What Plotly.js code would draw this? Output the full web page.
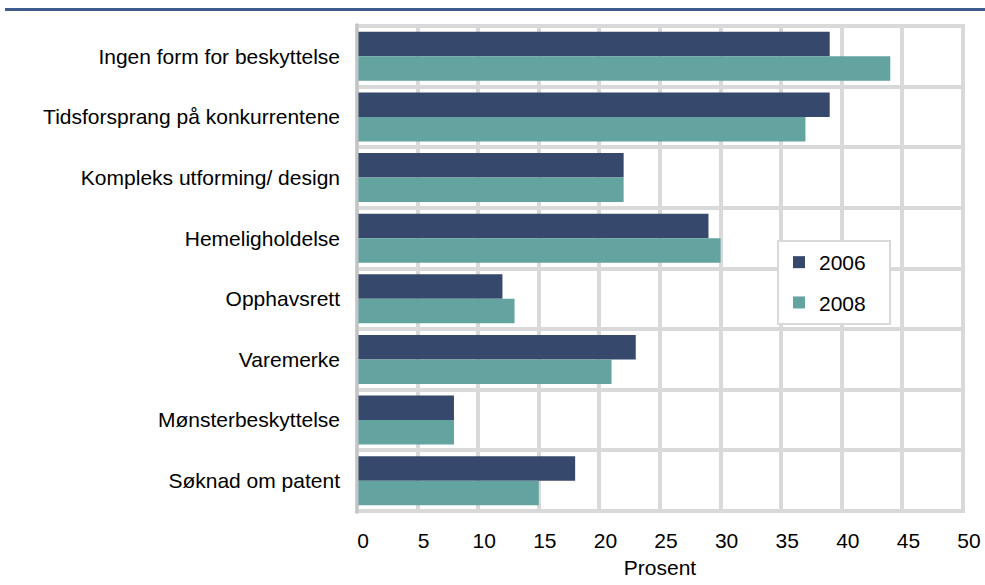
<!DOCTYPE html>
<html>
<head>
<meta charset="utf-8">
<script src="https://cdn.plot.ly/plotly-3.0.1.min.js"></script>
<style>
  html, body { margin: 0; padding: 0; background: #fff; }
  #chart { width: 985px; height: 585px; }
</style>
</head>
<body>
<div id="chart"></div>
<script>
const categories = [
  "Ingen form for beskyttelse",
  "Tidsforsprang på konkurrentene",
  "Kompleks utforming/ design",
  "Hemeligholdelse",
  "Opphavsrett",
  "Varemerke",
  "Mønsterbeskyttelse",
  "Søknad om patent"
];
const values2006 = [39, 39, 22, 29, 12, 23, 8, 18];
const values2008 = [44, 37, 22, 30, 13, 21, 8, 15];
const seriesNames = ["2006", "2008"];
const xTicks = [0, 5, 10, 15, 20, 25, 30, 35, 40, 45, 50];

const font = "Liberation Sans, Arial, sans-serif";
const fs = 21;
const plotW = 606, plotH = 485, ml = 357, mt = 26;
const pad = "\u00a0\u00a0\u00a0";

const traces = [
  {
    type: "bar", orientation: "h", name: seriesNames[0] + pad,
    y: categories, x: values2006,
    marker: { color: "#36486b" },
    legendgroup: "a", hoverinfo: "x"
  },
  {
    type: "bar", orientation: "h", name: seriesNames[1] + pad,
    y: categories, x: values2008,
    marker: { color: "#63a3a0" },
    legendgroup: "b", hoverinfo: "x"
  }
];

const layout = {
  width: 985, height: 585,
  margin: { l: ml, r: 985 - ml - plotW, t: mt, b: 585 - mt - plotH },
  paper_bgcolor: "#ffffff",
  plot_bgcolor: "#ffffff",
  font: { family: font, size: fs, color: "#000" },
  barmode: "group",
  bargap: 0.19,
  bargroupgap: 0,
  showlegend: true,
  legend: {
    x: (777 - ml) / plotW, y: 1 - (240 - mt) / plotH, xanchor: "left", yanchor: "top",
    bordercolor: "#d9d9d9", borderwidth: 2,
    bgcolor: "#ffffff",
    font: { family: font, size: fs, color: "#000" },
    traceorder: "grouped",
    tracegroupgap: 10
  },
  xaxis: {
    range: [0, 50],
    tickvals: xTicks,
    ticktext: xTicks.map(String),
    showgrid: true, gridcolor: "#d9d9d9", gridwidth: 4,
    zeroline: false,
    showline: false,
    ticks: "outside", ticklen: 11, tickcolor: "rgba(0,0,0,0)",
    ticklabelshift: 6,
    tickfont: { family: font, size: fs, color: "#000" },
    title: { text: "Prosent", font: { family: font, size: fs, color: "#000" }, standoff: 9 },
    fixedrange: true
  },
  yaxis: {
    type: "category",
    autorange: "reversed",
    tickson: "boundaries",
    showgrid: true, gridcolor: "#d9d9d9", gridwidth: 4,
    showline: false,
    zeroline: false,
    ticks: "",
    ticklabelstandoff: 16,
    tickfont: { family: font, size: fs, color: "#000" },
    fixedrange: true
  },
  shapes: [
    { type: "rect", xref: "paper", yref: "paper", x0: 0, x1: 1, y0: 0, y1: 1,
      line: { color: "#d9d9d9", width: 4 }, layer: "below" },
    { type: "line", xref: "paper", yref: "paper", x0: 0, x1: 0, y0: -0.005, y1: 1.005,
      line: { color: "#c4c4c4", width: 3 } },
    { type: "line", xref: "paper", yref: "paper", x0: (5 - ml) / plotW, x1: (990 - ml) / plotW,
      y0: 1 + (mt - 9.5) / plotH, y1: 1 + (mt - 9.5) / plotH, line: { color: "#3f5b8c", width: 3 } }
  ]
};

Plotly.newPlot("chart", traces, layout, { displayModeBar: false, staticPlot: true });
</script>
</body>
</html>
